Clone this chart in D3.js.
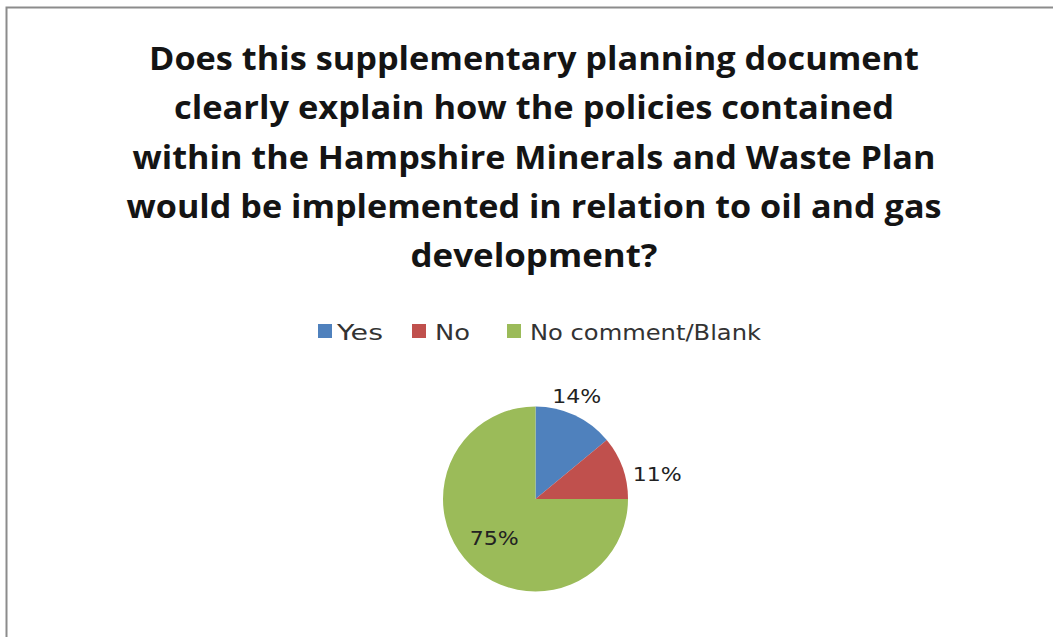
<!DOCTYPE html>
<html>
<head>
<meta charset="utf-8">
<script src="https://cdn.jsdelivr.net/npm/d3@7"></script>
<style>
  html, body { margin: 0; padding: 0; background: #fff; }
  svg { display: block; }
</style>
</head>
<body>
<svg id="chart" width="1053" height="637"></svg>
<script>
// Survey responses
const categories = ["Yes", "No", "No comment/Blank"];
const values = [14, 11, 75];
const colors = ["#4F81BD", "#C0504D", "#9BBB59"];
const titleLines = [
  "Does this supplementary planning document",
  "clearly explain how the policies contained",
  "within the Hampshire Minerals and Waste Plan",
  "would be implemented in relation to oil and gas",
  "development?"
];

const svg = d3.select("#chart");
const W = 1053, H = 637;

// chart area frame
svg.append("rect")
  .attr("x", 6.5).attr("y", 7.5)
  .attr("width", W).attr("height", H)
  .attr("fill", "#fff")
  .attr("stroke", "#8c8c8c").attr("stroke-width", 2);

// title, one tspan per line, each fitted to its set width
const titleWidths = [770, 720, 803, 815, 247];
const title = svg.append("text")
  .attr("text-anchor", "middle")
  .attr("font-family", "'Open Sans', Lato, sans-serif")
  .attr("font-weight", "bold")
  .attr("font-size", 32)
  .attr("fill", "#141414");
titleLines.forEach((t, i) => {
  title.append("tspan")
    .attr("x", 534)
    .attr("y", 70 + i * 49.3)
    .attr("textLength", titleWidths[i])
    .attr("lengthAdjust", "spacingAndGlyphs")
    .text(t);
});

// legend
const legendX = [318, 412, 507];
const legendTextW = [46, 35, 231];
const legend = svg.append("g");
categories.forEach((c, i) => {
  const g = legend.append("g").attr("transform", `translate(${legendX[i]},0)`);
  g.append("rect").attr("x", 0).attr("y", 324).attr("width", 14).attr("height", 14)
    .attr("fill", colors[i]);
  g.append("text").attr("x", i === 0 ? 19 : 23).attr("y", 340)
    .attr("font-family", "'DejaVu Sans', sans-serif")
    .attr("font-size", 21)
    .attr("fill", "#333")
    .attr("textLength", legendTextW[i])
    .attr("lengthAdjust", "spacingAndGlyphs")
    .text(c);
});

// pie
const cx = 535.5, cy = 499, r = 92.5;
const pie = d3.pie().sort(null).value(d => d)(values);
const arc = d3.arc().innerRadius(0).outerRadius(r);
const g = svg.append("g").attr("transform", `translate(${cx},${cy})`);
g.selectAll("path").data(pie).join("path")
  .attr("d", arc)
  .attr("fill", (d, i) => colors[i]);

// percentage labels: two outside the slices, the large one inside
const labelR = [1.2, 1.33, 0.6];
const labelShift = [[-6, -3], [6, 16], [-2, 0]];
g.selectAll("text.pct").data(pie).join("text")
  .attr("class", "pct")
  .attr("transform", (d, i) => {
    const a = d3.arc().innerRadius(r * labelR[i]).outerRadius(r * labelR[i]);
    const [x, y] = a.centroid(d);
    return `translate(${x + labelShift[i][0]},${y + labelShift[i][1]})`;
  })
  .attr("text-anchor", "middle")
  .attr("dy", "0.36em")
  .attr("font-family", "'DejaVu Sans', sans-serif")
  .attr("font-size", 20)
  .attr("fill", "#222")
  .attr("textLength", 49)
  .attr("lengthAdjust", "spacingAndGlyphs")
  .text(d => d.value + "%");
</script>
</body>
</html>
